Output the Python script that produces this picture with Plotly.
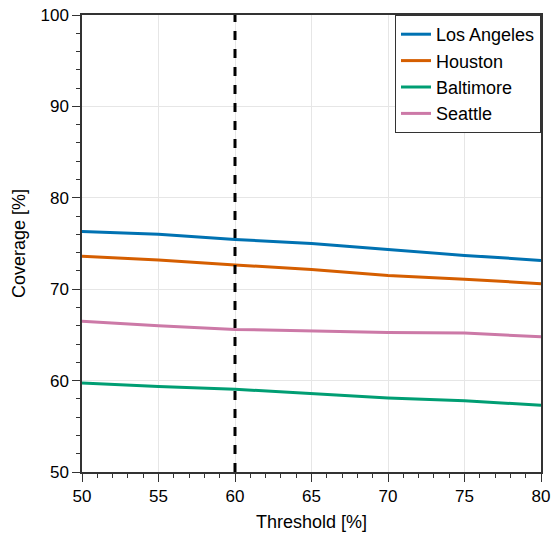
import plotly.graph_objects as go

thresholds = [50, 55, 60, 65, 70, 75, 80]
los_angeles = [76.3, 76.0, 75.45, 75.0, 74.35, 73.7, 73.15]
houston = [73.6, 73.2, 72.65, 72.15, 71.5, 71.1, 70.6]
baltimore = [59.75, 59.35, 59.05, 58.55, 58.1, 57.8, 57.3]
seattle = [66.5, 66.0, 65.6, 65.45, 65.25, 65.2, 64.8]
cutoff = 60

series = [
    ("Los Angeles", los_angeles, "#0072B2"),
    ("Houston", houston, "#D55E00"),
    ("Baltimore", baltimore, "#009E73"),
    ("Seattle", seattle, "#CC79A7"),
]

fig = go.Figure()
for name, vals, color in series:
    fig.add_trace(go.Scatter(x=thresholds, y=vals, mode="lines", name=name,
                             line=dict(color=color, width=3)))

fig.add_vline(x=cutoff, line=dict(color="black", width=3, dash="dash"))

axis_common = dict(
    showline=True, linecolor="#333333", linewidth=1.5, mirror=True,
    ticks="outside", ticklen=8, tickwidth=1.2, tickcolor="#333333",
    showgrid=True, gridcolor="#e6e6e6", gridwidth=1, zeroline=False,
    tickfont=dict(size=17, color="black"),
)

fig.update_xaxes(range=[50, 80], dtick=5,
                 minor=dict(ticks="outside", ticklen=4, dtick=1, tickcolor="#333333", showgrid=False),
                 title=dict(text="Threshold [%]", font=dict(size=18, color="black"), standoff=10),
                 **axis_common)
fig.update_yaxes(range=[50, 100], dtick=10,
                 minor=dict(ticks="outside", ticklen=4, dtick=2, tickcolor="#333333", showgrid=False),
                 title=dict(text="Coverage [%]", font=dict(size=18, color="black"), standoff=10),
                 **axis_common)

fig.update_layout(
    width=553, height=536,
    margin=dict(l=82, r=12, t=15, b=64, autoexpand=False),
    plot_bgcolor="white", paper_bgcolor="white",
    font=dict(family="Liberation Sans, Arial, sans-serif", size=17, color="black"),
    legend=dict(x=1, y=1, xanchor="right", yanchor="top",
                bgcolor="white", bordercolor="#333333", borderwidth=1,
                font=dict(size=18), tracegroupgap=0),
    showlegend=True,
)

fig.write_html(
    "out.html",
    config={"displayModeBar": False},
    post_script="document.body.style.margin='0';document.body.style.overflow='hidden';",
)
